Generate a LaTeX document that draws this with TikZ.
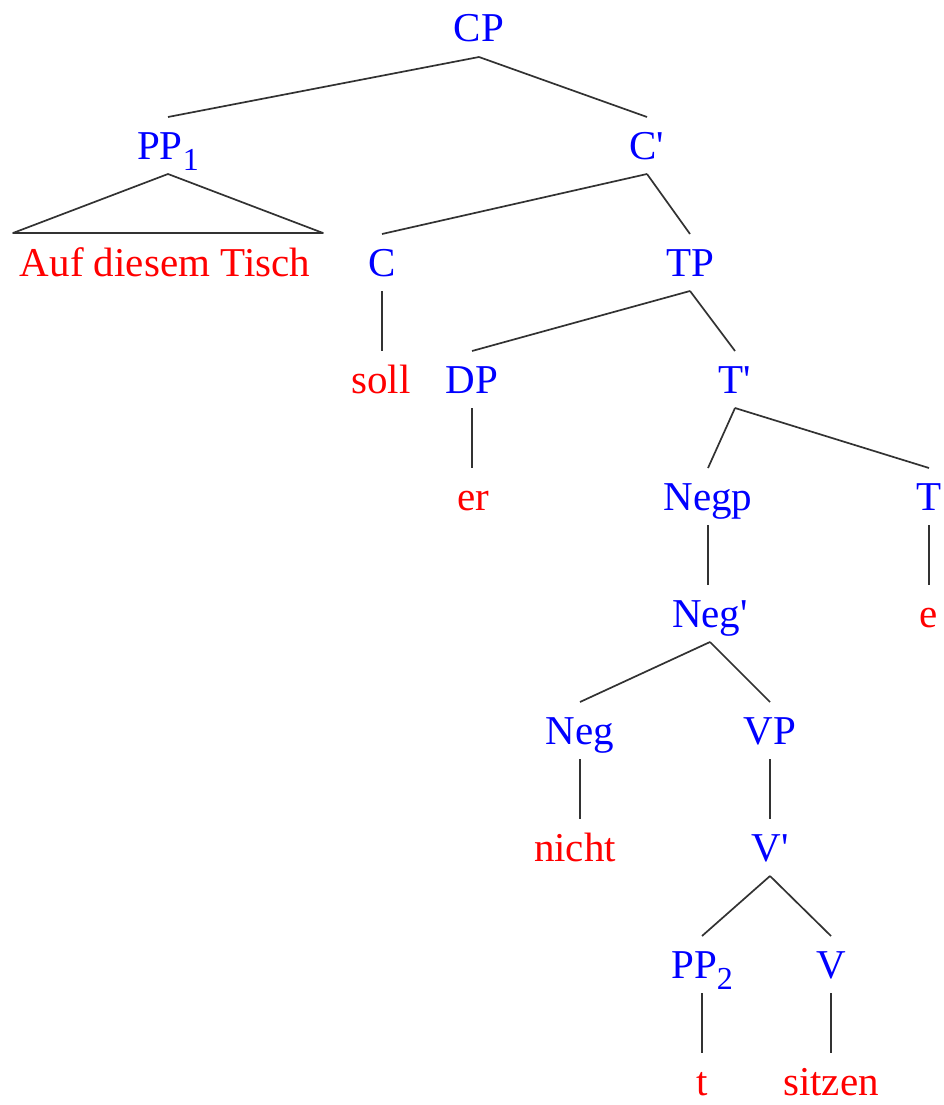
\documentclass[tikz,border=0pt]{standalone}
\usepackage{fontspec}
\newfontfamily\treefont{Liberation Serif}
\definecolor{catblue}{RGB}{0,0,255}
\definecolor{wordred}{RGB}{255,0,0}
\definecolor{edgegray}{RGB}{50,50,50}
\newcommand\subidx[1]{\raisebox{-11pt}{\fontsize{32}{32}\selectfont #1}}
\begin{document}
\begin{tikzpicture}[x=1pt,y=-1pt,
  lab/.style={anchor=base,inner sep=0pt,outer sep=0pt,font=\treefont\fontsize{41}{48}\selectfont},
  cat/.style={lab,text=catblue},
  word/.style={lab,text=wordred},
  edge/.style={draw=edgegray,line width=1.7pt,line join=round}]
\useasboundingbox (0,0) rectangle (943,1105);
% categories
\node[cat] (cp) at (479,42) {CP};
\node[cat] (pp1) at (168,159) {PP\subidx{1}};
\node[cat] (cbar) at (647,159) {C'};
\node[word] (auf) at (165,276) {Auf diesem Tisch};
\node[cat] (c) at (382,276) {C};
\node[cat] (tp) at (690,276) {TP};
\node[word] (soll) at (381,393) {soll};
\node[cat] (dp) at (472,393) {DP};
\node[cat] (tbar) at (735,393) {T'};
\node[word] (er) at (473,510) {er};
\node[cat] (negp) at (708,510) {Negp};
\node[cat] (t) at (929,510) {T};
\node[cat] (negbar) at (710,627) {Neg'};
\node[word] (e) at (929,627) {e};
\node[cat] (neg) at (580,744) {Neg};
\node[cat] (vp) at (770,744) {VP};
\node[word] (nicht) at (575,861) {nicht};
\node[cat] (vbar) at (770,861) {V'};
\node[cat] (pp2) at (702,978) {PP\subidx{2}};
\node[cat] (v) at (831,978) {V};
\node[word] (trace) at (702,1095) {t};
\node[word] (sitzen) at (831,1095) {sitzen};
% triangle
\coordinate (tl) at (13,233);
\coordinate (tr) at (323,233);
\draw[edge] ([yshift=-15pt]pp1.base) -- (tl) -- (tr) -- cycle;
% branching edges
\foreach \p/\c in {cp/pp1,cp/cbar,cbar/c,cbar/tp,tp/dp,tp/tbar,
  tbar/negp,tbar/t,negbar/neg,negbar/vp,vbar/pp2,vbar/v}
  \draw[edge] ([yshift=-15pt]\p.base) -- ([yshift=42pt]\c.base);
% unary (vertical) edges
\foreach \p/\c in {c/soll,dp/er,negp/negbar,t/e,neg/nicht,vp/vbar,pp2/trace,v/sitzen}{
  \path ([yshift=42pt]\c.base) coordinate (ctop);
  \draw[edge] ([yshift=-15pt]\p.base) coordinate (pbot) -- (pbot |- ctop);
}
\end{tikzpicture}
\end{document}
